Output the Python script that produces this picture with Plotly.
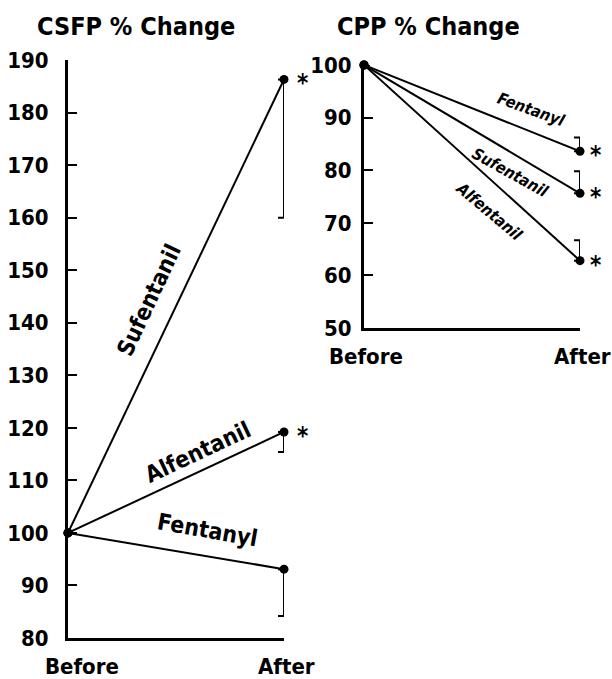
import plotly.graph_objects as go

# ---- data ----
x_cats = ["Before", "After"]
drugs = ["Sufentanil", "Alfentanil", "Fentanyl"]

csfp_before = [100, 100, 100]
csfp_after = [186.3, 119.2, 93.1]
csfp_err_minus = [26.3, 3.8, 8.9]

cpp_drugs = ["Fentanyl", "Sufentanil", "Alfentanil"]
cpp_before = [100, 100, 100]
cpp_after = [83.6, 75.6, 62.8]
cpp_err_plus = [2.6, 4.2, 3.9]

csfp_ticks = [80, 90, 100, 110, 120, 130, 140, 150, 160, 170, 180, 190]
cpp_ticks = [50, 60, 70, 80, 90, 100]

FONT = "DejaVu Sans Condensed, DejaVu Sans, sans-serif"
W, H = 612, 679


def px(x):
    return x / W


def py(y):
    return 1 - y / H


def fnt(s, italic=False):
    d = dict(size=s, family=FONT, color="black", weight="bold")
    if italic:
        d["style"] = "italic"
    return d


fig = go.Figure()

for i, d in enumerate(drugs):
    fig.add_trace(go.Scatter(
        x=[0, 1], y=[csfp_before[i], csfp_after[i]],
        mode="lines+markers", xaxis="x", yaxis="y",
        line=dict(color="black", width=2),
        marker=dict(color="black", size=9),
        error_y=dict(type="data", symmetric=False, array=[0, 0],
                     arrayminus=[0, csfp_err_minus[i]], color="black",
                     thickness=2, width=6),
        cliponaxis=False, showlegend=False))

for i, d in enumerate(cpp_drugs):
    fig.add_trace(go.Scatter(
        x=[0, 1], y=[cpp_before[i], cpp_after[i]],
        mode="lines+markers", xaxis="x2", yaxis="y2",
        line=dict(color="black", width=2),
        marker=dict(color="black", size=9),
        error_y=dict(type="data", symmetric=False, array=[0, cpp_err_plus[i]],
                     arrayminus=[0, 0], color="black",
                     thickness=2, width=6),
        cliponaxis=False, showlegend=False))

axcommon = dict(showgrid=False, zeroline=False, showline=True, linecolor="black",
                linewidth=3, ticks="inside", ticklen=9, tickwidth=2, tickcolor="black",
                automargin=False)

fig.update_layout(
    width=W, height=H, margin=dict(l=0, r=0, t=0, b=0, autoexpand=False),
    paper_bgcolor="white", plot_bgcolor="white",
    font=dict(family=FONT, color="black"),
    xaxis=dict(domain=[px(68), px(284)], range=[0, 1], tickvals=[0, 1],
               showticklabels=False, anchor="y", **axcommon),
    yaxis=dict(domain=[py(638), py(60)], range=[80, 190],
               tickvals=csfp_ticks, ticklabelstandoff=12,
               tickfont=fnt(22), anchor="x", **axcommon),
    xaxis2=dict(domain=[px(364), px(580)], range=[0, 1], tickvals=[0, 1],
                showticklabels=False, anchor="y2", **axcommon),
    yaxis2=dict(domain=[py(328), py(65)], range=[50, 100],
                tickvals=cpp_ticks, ticklabelstandoff=5,
                tickfont=fnt(22), anchor="x2", **axcommon),
)

ann = []

# titles
ann.append(dict(text="CSFP % Change", xref="paper", yref="paper", x=px(35), y=py(27),
                xanchor="left", yanchor="middle", showarrow=False, font=fnt(25)))
ann.append(dict(text="CPP % Change", xref="paper", yref="paper", x=px(335), y=py(27),
                xanchor="left", yanchor="middle", showarrow=False, font=fnt(25)))

# x labels
for xr, yr, ymin, shift in [("x", "y", 80, 14), ("x2", "y2", 50, 2)]:
    ann.append(dict(text=x_cats[0], xref=xr, yref=yr, x=0, y=ymin, yshift=-28, xshift=shift,
                    showarrow=False, font=fnt(22), yanchor="middle"))
    ann.append(dict(text=x_cats[1], xref=xr, yref=yr, x=1, y=ymin, yshift=-28, xshift=2,
                    showarrow=False, font=fnt(22), yanchor="middle"))

# asterisks
for yv in [csfp_after[0], csfp_after[1]]:
    ann.append(dict(text="*", xref="x", yref="y", x=1, y=yv, xshift=18, yshift=-4,
                    showarrow=False, font=fnt(24)))
for yv in cpp_after:
    ann.append(dict(text="*", xref="x2", yref="y2", x=1, y=yv, xshift=15, yshift=-4,
                    showarrow=False, font=fnt(24)))

# curve labels
left_lbl = [("Sufentanil", 0.375, 144.3, -65), ("Alfentanil", 0.60, 115.4, -25),
            ("Fentanyl", 0.648, 100.6, 10)]
for t, xv, yv, ang in left_lbl:
    ann.append(dict(text=t, xref="x", yref="y", x=xv, y=yv, textangle=ang,
                    showarrow=False, font=fnt(23)))
right_lbl = [("Fentanyl", 0.774, 91.5, 20), ("Sufentanil", 0.677, 79.5, 29),
             ("Alfentanil", 0.581, 72.2, 40)]
for t, xv, yv, ang in right_lbl:
    ann.append(dict(text=t, xref="x2", yref="y2", x=xv, y=yv, textangle=ang,
                    showarrow=False, font=fnt(16, italic=True)))

fig.update_layout(annotations=ann)
fig.write_html("out.html", config={"displayModeBar": False},
               post_script="document.body.style.margin='0';"
                           "document.body.style.overflow='hidden';")
